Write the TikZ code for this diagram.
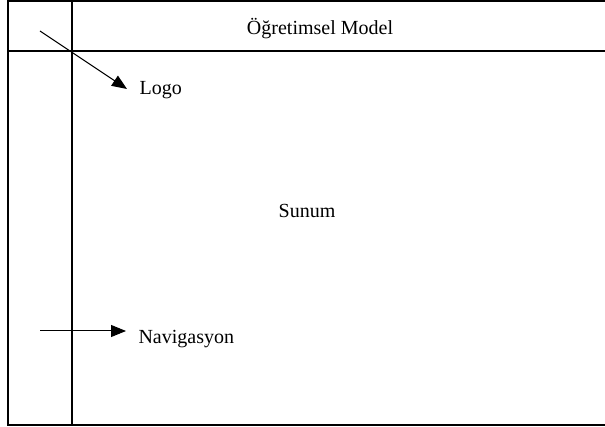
\documentclass[tikz,border=0pt]{standalone}
\usepackage{fontspec}
\setmainfont{Liberation Serif}
\usepackage{tikz}
\usetikzlibrary{arrows.meta}

\begin{document}
\begin{tikzpicture}[x=1pt, y=-1pt, line width=1.1pt,
    lbl/.style={font=\fontsize{20}{24}\selectfont, inner sep=0pt},
    pointer/.style={line width=1pt, -{Triangle[length=15pt, width=12pt]}}]
    \useasboundingbox (0,0) rectangle (605,427);

    \draw (605,1) -- (8,1) -- (8,425) -- (605,425);
    \draw (8,51) -- (605,51);
    \draw (72,1) -- (72,425);

    \node [lbl] (title) at (320,29) {Öğretimsel Model};
    \node [lbl] (sunum) at (307,211) {Sunum};
    \node [lbl, anchor=west] (logo) at (139,90) {Logo};
    \node [lbl, anchor=west] (nav) at (138,339) {Navigasyon};

    \coordinate (logo-from) at (40,31);
    \coordinate (logo-to) at (127,89);
    \coordinate (nav-from) at (40,331);
    \coordinate (nav-to) at (126,331);
    \draw [pointer] (logo-from) -- (logo-to);
    \draw [pointer] (nav-from) -- (nav-to);
\end{tikzpicture}
\end{document}
